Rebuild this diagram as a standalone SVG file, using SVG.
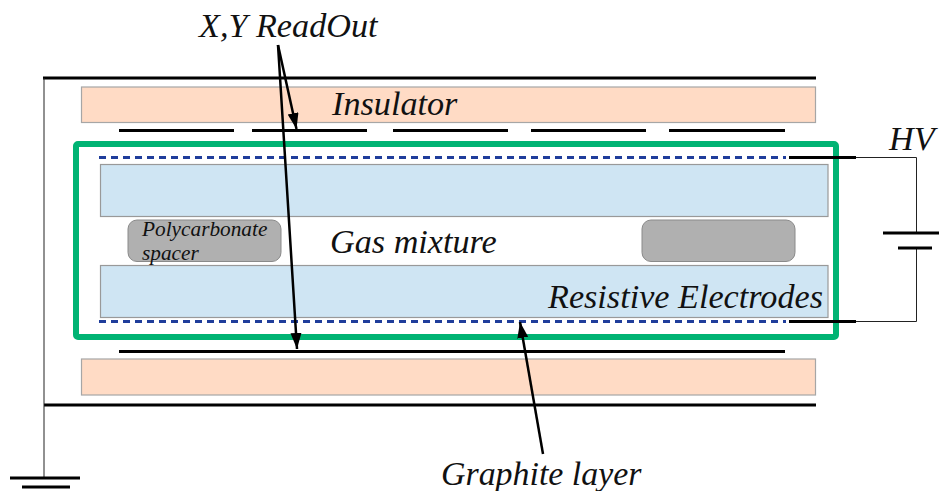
<svg xmlns="http://www.w3.org/2000/svg" width="939" height="491" viewBox="0 0 939 491">
<style>
.t{font-family:"Liberation Serif",serif;font-style:italic;fill:#111;font-size:34.2px}
.s{font-size:21.300px}
.ins{fill:#ffdbc5;stroke:#a6a6a6;stroke-width:1.2}
.res{fill:#cfe5f3;stroke:#999;stroke-width:1.2}
.sp{fill:#b0b0b0;stroke:#8a8a8a;stroke-width:1}
.k{stroke:#000;fill:none;stroke-width:3}
.a{stroke:#000;fill:none;stroke-width:2.500}
.w{stroke:#222;fill:none;stroke-width:1}
.d{stroke:#1f3d9b;fill:none;stroke-width:3;stroke-dasharray:7 5}
</style>
<defs><marker id="a" markerUnits="userSpaceOnUse" markerWidth="17" markerHeight="12" refX="16" refY="5.500" orient="auto"><path d="M0 0L16 5.500L0 11Z" fill="#000"/></marker></defs>
<g id="insulator-top"><rect class="ins" x="81.500" y="87" width="734" height="35.500"/><text class="t" x="332" y="115">Insulator</text></g>
<g id="insulator-bottom"><rect class="ins" x="81.500" y="359" width="734" height="36"/></g>
<g id="readout-top"><path class="k" d="M119 130.500H234M252 130.500H367M393 130.500H508M531 130.500H646M669 130.500H785"/></g>
<g id="readout-bottom"><path class="k" d="M119 351.500H785"/></g>
<g id="resistive-top"><rect class="res" x="100.500" y="164.500" width="727.500" height="52"/></g>
<g id="resistive-bottom"><rect class="res" x="100.500" y="265.500" width="727.500" height="52"/><text class="t" x="548" y="308">Resistive Electrodes</text></g>
<g id="chamber"><rect x="76" y="144" width="760" height="193" rx="2" fill="none" stroke="#00b373" stroke-width="6"/></g>
<g id="graphite"><path class="d" d="M99 157.500H786M99 321.500H786"/></g>
<g id="spacer-left"><rect class="sp" x="128" y="220" width="153" height="41.500" rx="9"/><text class="t s" x="142" y="236">Polycarbonate</text><text class="t s" x="142" y="260">spacer</text></g>
<g id="spacer-right"><rect class="sp" x="642" y="220" width="153" height="41.500" rx="9"/></g>
<g id="labels"><text class="t" x="199" y="37">X,Y ReadOut</text><text class="t" x="330" y="253">Gas mixture</text><text class="t" x="889" y="150">HV</text><text class="t" x="441" y="485" style="font-size:33.9px">Graphite layer</text></g>
<g id="connectors">
<path class="k" d="M43 78H816M44 405H816"/>
<path class="w" d="M44 78V478"/>
<path class="k" d="M10 478H80M22 487H70"/>
<path class="k" d="M789 157.500H856M789 321.500H856"/>
<path class="w" d="M856 157.500H916.500V233M916.500 248V321.500H856"/>
<path class="k" d="M883 233H939M898 248H932"/>
<path class="a" d="M278 45L296.500 129" marker-end="url(#a)"/>
<path class="a" d="M278 45L297 349" marker-end="url(#a)"/>
<path class="a" d="M543 454L520 322" marker-end="url(#a)"/>
</g>
</svg>
